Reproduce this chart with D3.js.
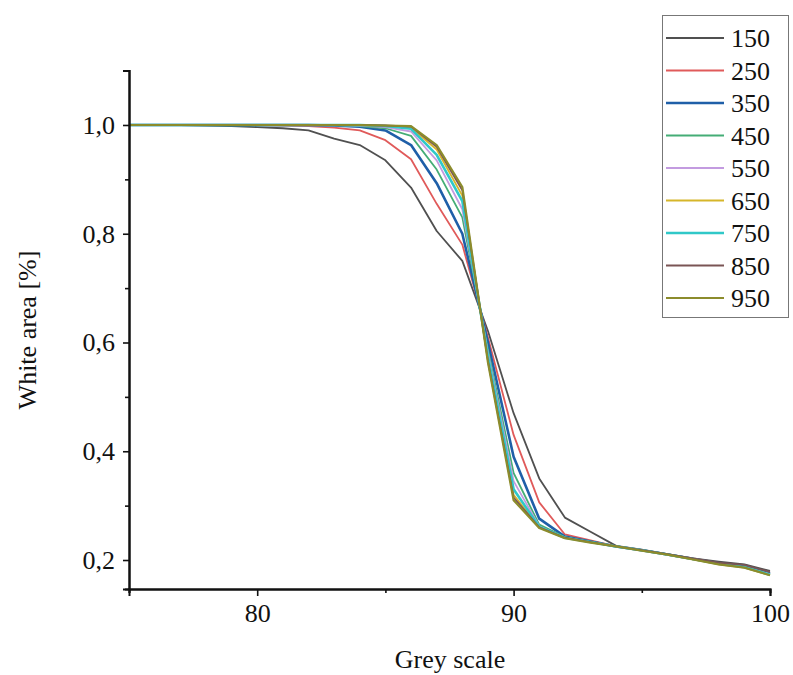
<!DOCTYPE html>
<html>
<head>
<meta charset="utf-8">
<script src="https://cdn.jsdelivr.net/npm/d3@7"></script>
<style>
  html, body { margin: 0; padding: 0; background: #fff; }
  svg { display: block; }
  text { font-family: "Liberation Serif", "Times New Roman", serif; fill: #111; }
</style>
</head>
<body>
<svg id="chart" width="793" height="675"></svg>
<script>
// ---- data ----
const greyScale = [75,76,77,78,79,80,81,82,83,84,85,86,87,88,89,90,91,92,93,94,95,96,97,98,99,100];
const seriesNames = ["150","250","350","450","550","650","750","850","950"];
const s150 = [1,1,1,0.999,0.998,0.996,0.994,0.99,0.975,0.963,0.935,0.885,0.805,0.75,0.621,0.47,0.35,0.278,0.252,0.226,0.219,0.211,0.203,0.197,0.192,0.18];
const s250 = [1,1,1,1,1,1,0.999,0.998,0.995,0.99,0.972,0.937,0.855,0.78,0.609,0.43,0.306,0.247,0.236,0.225,0.218,0.21,0.202,0.194,0.188,0.176];
const s350 = [1,1,1,1,1,1,1,1,0.999,0.997,0.99,0.963,0.893,0.80,0.60,0.39,0.276,0.243,0.234,0.225,0.218,0.21,0.202,0.194,0.188,0.175];
const s450 = [1,1,1,1,1,1,1,1,1,0.998,0.994,0.98,0.918,0.83,0.587,0.36,0.265,0.242,0.233,0.225,0.218,0.21,0.202,0.193,0.187,0.174];
const s550 = [1,1,1,1,1,1,1,1,1,0.999,0.996,0.988,0.935,0.845,0.581,0.345,0.262,0.241,0.233,0.225,0.218,0.21,0.202,0.193,0.187,0.174];
const s650 = [1,1,1,1,1,1,1,1,1,1,0.998,0.995,0.955,0.87,0.57,0.32,0.26,0.241,0.233,0.225,0.218,0.21,0.201,0.192,0.186,0.172];
const s750 = [1,1,1,1,1,1,1,1,1,1,0.998,0.993,0.945,0.86,0.574,0.33,0.261,0.241,0.233,0.225,0.218,0.21,0.202,0.193,0.187,0.173];
const s850 = [1,1,1,1,1,1,1,1,1,1,0.999,0.997,0.96,0.88,0.566,0.315,0.26,0.241,0.233,0.225,0.218,0.211,0.203,0.195,0.191,0.178];
const s950 = [1,1,1,1,1,1,1,1,1,1,0.999,0.998,0.963,0.886,0.563,0.31,0.259,0.24,0.232,0.225,0.217,0.21,0.201,0.192,0.186,0.172];
const seriesValues = [s150,s250,s350,s450,s550,s650,s750,s850,s950];
const seriesColors = ["#505050","#e05a5a","#1f5fa8","#45ad76","#c39be0","#d6b62a","#30c8c8","#7a5555","#8c8c2c"];
const seriesWidths = [1.8,1.8,2.6,1.8,1.8,1.8,2.6,1.8,2.2];
const xMajorTicks = [80,90,100];
const xMinorTicks = [75,85,95];
const yMajorTicks = [0.2,0.4,0.6,0.8,1.0];
const yMinorTicks = [0.3,0.5,0.7,0.9,1.1];

// ---- layout ----
const svg = d3.select("#chart");
const L = 129, R = 770, T = 70.6, B = 589;
const FS = "26px";
const x = d3.scaleLinear().domain([75,100]).range([L,R]);
const y = d3.scaleLinear().domain([0.1467,1.1]).range([B,T]);
const fmt = d => d3.format(".1f")(d).replace(".", ",");

// lines
const line = d3.line().x((d,i) => x(greyScale[i])).y(d => y(d));
seriesValues.forEach((vals, k) => {
  svg.append("path")
    .attr("d", line(vals))
    .attr("fill","none")
    .attr("stroke", seriesColors[k])
    .attr("stroke-width", seriesWidths[k])
    .attr("stroke-linejoin","round");
});

// x axis
const gx = svg.append("g").attr("transform", `translate(0,${B})`);
gx.call(d3.axisBottom(x).tickValues(xMajorTicks).tickSize(7).tickPadding(8).tickFormat(d3.format("d")));
gx.append("g").call(d3.axisBottom(x).tickValues(xMinorTicks).tickSize(4).tickFormat(""));
gx.selectAll(".domain").attr("stroke","#111").attr("stroke-width",2);
gx.selectAll(".tick line").attr("stroke","#111").attr("stroke-width",1.6);
gx.selectAll("text").style("font-family",'"Liberation Serif", serif').style("font-size",FS).attr("fill","#111");

// y axis
const gy = svg.append("g").attr("transform", `translate(${L},0)`);
gy.call(d3.axisLeft(y).tickValues(yMajorTicks).tickSize(6).tickPadding(8).tickFormat(fmt));
gy.append("g").call(d3.axisLeft(y).tickValues(yMinorTicks).tickSize(4).tickFormat(""));
gy.selectAll(".domain").attr("stroke","#111").attr("stroke-width",2);
gy.selectAll(".tick line").attr("stroke","#111").attr("stroke-width",1.6);
gy.selectAll("text").style("font-family",'"Liberation Serif", serif').style("font-size",FS).attr("fill","#111");

// axis titles
svg.append("text").attr("x", 450).attr("y", 668).attr("text-anchor","middle")
  .style("font-size",FS).text("Grey scale");
svg.append("text").attr("transform","translate(36,330) rotate(-90)").attr("text-anchor","middle")
  .style("font-size",FS).text("White area [%]");

// legend
const lg = svg.append("g");
lg.append("rect").attr("x",662.5).attr("y",15.5).attr("width",126).attr("height",302)
  .attr("fill","#fff").attr("stroke","#777").attr("stroke-width",1);
seriesNames.forEach((n,k) => {
  const cy = 38 + k*32.5;
  lg.append("line").attr("x1",666).attr("x2",724).attr("y1",cy).attr("y2",cy)
    .attr("stroke",seriesColors[k]).attr("stroke-width",seriesWidths[k]);
  lg.append("text").attr("x",731).attr("y",cy+9).style("font-size",FS).text(n);
});
</script>
</body>
</html>
